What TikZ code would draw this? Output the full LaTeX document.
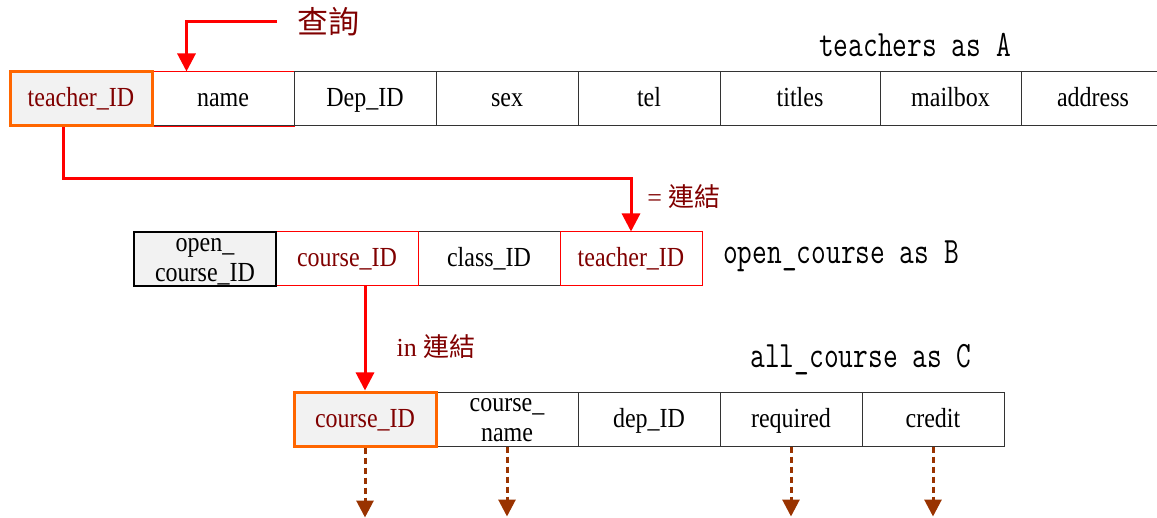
\documentclass[tikz,border=0pt]{standalone}
\usepackage{fontspec}
\setmainfont{Liberation Serif}
\newfontfamily\cjkfont{Noto Sans CJK TC}
\usetikzlibrary{arrows.meta}
\definecolor{labelred}{RGB}{128,0,0}
\definecolor{keyorange}{RGB}{255,102,0}
\definecolor{keygray}{RGB}{242,242,242}
\definecolor{linkred}{RGB}{255,0,0}
\definecolor{dashbrown}{RGB}{153,51,0}
\newcommand{\celltext}[1]{\scalebox{1}[1.15]{#1}}
\newcommand{\twoline}[2]{\smash{\scalebox{1}[1.15]{\begin{tabular}{@{}c@{}}#1\\[-1.5pt]#2\end{tabular}}}}
\newcommand{\monotext}[1]{\scalebox{1}[1.3]{#1}}
\begin{document}
\begin{tikzpicture}[x=0.5pt,y=-0.5pt,
  cell/.style={draw=black!80, line width=0.5pt, minimum width=71pt, minimum height=27pt,
    inner sep=0pt, text height=10pt, text depth=2pt,
    font=\fontsize{12}{14.5}\selectfont, align=center},
  keycell/.style={cell, draw=keyorange, line width=1.5pt, fill=keygray, text=labelred},
  redcell/.style={cell, draw=linkred, text=labelred},
  pkcell/.style={cell, draw=black, line width=1.3pt, fill=keygray},
  monolabel/.style={font=\ttfamily\fontsize{14.3}{16}\selectfont, inner sep=0pt},
  cjklabel/.style={text=labelred, inner sep=0pt},
  linkarrow/.style={draw=linkred, line width=1.5pt, -{Triangle[width=9pt,length=9pt]}},
  dasharrow/.style={draw=dashbrown, line width=1.5pt, dash pattern=on 3pt off 2pt,
    -{Triangle[width=8.5pt,length=8.5pt]}}
]
\useasboundingbox (0,0) rectangle (1157,518);
\clip (0,0) rectangle (1157,518);

% ---- teachers as A ----
\node[cell] (nameA) at (223,99) {\celltext{name}};
\draw[linkred, line width=0.6pt] (nameA.north west) -- (nameA.north east)
  (nameA.south west) -- (nameA.south east);
\node[cell] (depA) at (365,99) {\celltext{Dep\_ID}};
\node[cell] (sexA) at (507,99) {\celltext{sex}};
\node[cell] (telA) at (649,99) {\celltext{tel}};
\node[cell, minimum width=80pt] (titA) at (800,99) {\celltext{titles}};
\node[cell, minimum width=70.5pt] (mailA) at (950.5,99) {\celltext{mailbox}};
\node[cell, minimum width=72pt] (addrA) at (1093,99) {\celltext{address}};
\node[keycell] (tidA) at (81,99) {\celltext{teacher\_ID}};
\node[monolabel] (labA) at (915,45) {\monotext{teachers as A}};

% ---- open_course as B ----
\node[cell] (classB) at (489,259) {\celltext{class\_ID}};
\node[redcell] (courseB) at (347,259) {\celltext{course\_ID}};
\node[redcell] (tidB) at (631,259) {\celltext{teacher\_ID}};
\node[pkcell] (openB) at (205,259) {\twoline{open\_}{course\_ID}};
\node[monolabel] (labB) at (841,256) {\monotext{open\_course as B}};

% ---- all_course as C ----
\node[cell] (cnameC) at (507,419) {\twoline{course\_}{name}};
\node[cell] (depC) at (649,419) {\celltext{dep\_ID}};
\node[cell] (reqC) at (791,419) {\celltext{required}};
\node[cell] (credC) at (933,419) {\celltext{credit}};
\node[keycell] (courseC) at (365,419) {\celltext{course\_ID}};
\node[monolabel] (labC) at (861,360) {\monotext{all\_course as C}};

% ---- labels ----
\node[cjklabel, font=\cjkfont\fontsize{15.5}{16}\selectfont] (query) at (328,22) {查詢};
\node[cjklabel, font=\fontsize{13}{14}\selectfont] (eqjoin) at (684,197) {= {\cjkfont 連結}};
\node[cjklabel, font=\fontsize{13}{14}\selectfont] (injoin) at (436,347) {in {\cjkfont 連結}};

% ---- connectors ----
\coordinate (qstart) at (277,22);
\coordinate (jrow) at (0,179);
\draw[linkarrow] (qstart) -| ([xshift=17.5pt]nameA.north west);
\draw[linkarrow] ([xshift=-9pt]tidA.south) |- (jrow -| tidB.north) -- (tidB.north);
\draw[linkarrow] (courseB.south -| courseC.north) -- (courseC.north);

\draw[dasharrow] (courseC.south) -- ++(0,70);
\draw[dasharrow] (cnameC.south) -- ++(0,70);
\draw[dasharrow] (reqC.south) -- ++(0,70);
\draw[dasharrow] (credC.south) -- ++(0,70);
\end{tikzpicture}
\end{document}
